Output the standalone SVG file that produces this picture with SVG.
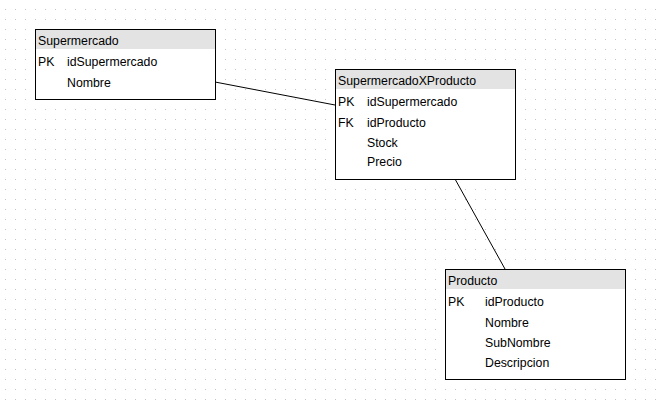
<svg xmlns="http://www.w3.org/2000/svg" width="662" height="407" viewBox="0 0 662 407">
<style>
.box{fill:#ffffff;stroke:#000000;stroke-width:1}
.hdr{fill:#e3e3e3}
text{font-family:"Liberation Sans",Arial,sans-serif;font-size:12.3px;fill:#000000}
.conn{stroke:#000000;stroke-width:1;fill:none}
</style>
<defs>
<pattern id="grid" x="0" y="0" width="10" height="10" patternUnits="userSpaceOnUse">
<rect x="5" y="9" width="1" height="1" fill="#c4c4c4"/>
</pattern>
</defs>
<rect x="0" y="0" width="662" height="407" fill="#ffffff"/>
<rect x="0" y="0" width="662" height="407" fill="url(#grid)"/>
<g id="connectors">
<line class="conn" x1="215" y1="82" x2="335" y2="105"/>
<line class="conn" x1="455" y1="179" x2="505" y2="269"/>
</g>
<g id="Supermercado">
<rect class="box" x="35.5" y="29.5" width="180" height="70"/>
<rect class="hdr" x="36" y="30" width="179" height="19"/>
<text x="38" y="45">Supermercado</text>
<text x="38" y="66">PK</text>
<text x="67" y="66">idSupermercado</text>
<text x="67" y="87">Nombre</text>
</g>
<g id="SupermercadoXProducto">
<rect class="box" x="335.5" y="69.5" width="180" height="110"/>
<rect class="hdr" x="336" y="70" width="179" height="19"/>
<text x="338" y="85">SupermercadoXProducto</text>
<text x="338" y="106">PK</text>
<text x="367" y="106">idSupermercado</text>
<text x="338" y="127">FK</text>
<text x="367" y="127">idProducto</text>
<text x="367" y="147">Stock</text>
<text x="367" y="166">Precio</text>
</g>
<g id="Producto">
<rect class="box" x="445.5" y="269.5" width="180" height="110"/>
<rect class="hdr" x="446" y="270" width="179" height="19"/>
<text x="448" y="285">Producto</text>
<text x="448" y="306">PK</text>
<text x="485" y="306">idProducto</text>
<text x="485" y="327">Nombre</text>
<text x="485" y="347">SubNombre</text>
<text x="485" y="367">Descripcion</text>
</g>
</svg>
